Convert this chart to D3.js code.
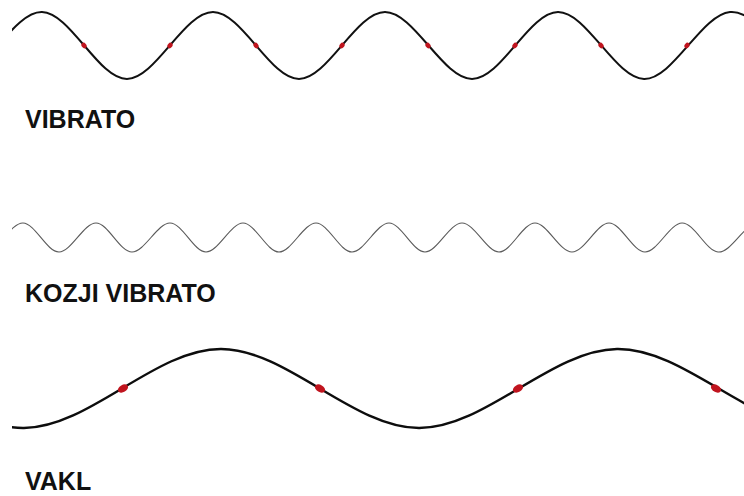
<!DOCTYPE html>
<html>
<head>
<meta charset="utf-8">
<title>Vibrato, kozji vibrato, vakl</title>
<script src="https://cdn.jsdelivr.net/npm/d3@7"></script>
<style>
    html, body { margin: 0; padding: 0; background: #fff; }
    svg { display: block; }
    .label { font-family: "Liberation Sans", Arial, sans-serif; font-weight: bold; font-size: 25px; fill: #111; }
</style>
</head>
<body>
<svg id="chart" width="744" height="496"></svg>
<script>
    // wave extremes (x, y in picture units), alternating trough / peak
    var vibratoX = [-216, -130, -44, 42, 127, 213, 299, 385, 472, 558, 644, 730, 816, 902];
    var vibratoY = [79, 12, 79, 12, 79, 12, 79, 12, 79, 12, 79, 12, 79, 12];
    var vibratoDotX = [84, 170, 256, 342, 428, 515, 601, 687];
    var vibratoDotY = [45.5, 45.5, 45.5, 45.5, 45.5, 45.5, 45.5, 45.5];

    var kozjiX = [-87, -51, -14, 23, 59, 96, 132, 170, 206, 243, 279, 316, 352, 389, 425, 462, 499, 535, 572, 609, 645, 682, 718, 755, 791];
    var kozjiY = [252, 223, 252, 223, 252, 223, 252, 223, 252, 223, 252, 223, 252, 223, 252, 223, 252, 223, 252, 223, 252, 223, 252, 223, 252];

    var vaklX = [-571, -373, -175, 24, 221, 419, 617, 815, 1013, 1211];
    var vaklY = [349, 428, 349, 428, 349, 428, 349, 428, 349, 428];
    var vaklDotX = [123, 320, 518, 716];
    var vaklDotY = [388.5, 388.5, 388.5, 388.5];

    var labels = ["VIBRATO", "KOZJI VIBRATO", "VAKL"];
    var labelY = [128, 302, 490];

    var svg = d3.select("#chart");
    var W = +svg.attr("width"), H = +svg.attr("height");

    var x = d3.scaleLinear().domain([0, 744]).range([0, W]);
    var y = d3.scaleLinear().domain([0, 496]).range([0, H]);

    svg.append("defs").append("clipPath")
        .attr("id", "clip")
        .append("rect")
        .attr("x", x(12)).attr("y", 0)
        .attr("width", W - x(12)).attr("height", H);

    var line = d3.line()
        .x(d => x(d[0]))
        .y(d => y(d[1]))
        .curve(d3.curveNatural);

    function wave(xs, ys, color, width) {
        svg.append("path")
            .datum(d3.zip(xs, ys))
            .attr("clip-path", "url(#clip)")
            .attr("fill", "none")
            .attr("stroke", color)
            .attr("stroke-width", width)
            .attr("d", line);
    }

    function dots(xs, ys, rx, ry, angle) {
        svg.append("g")
            .selectAll("ellipse")
            .data(d3.zip(xs, ys))
            .enter()
            .append("ellipse")
            .attr("transform", (d, i) => `translate(${x(d[0])},${y(d[1])}) rotate(${i % 2 ? angle : -angle})`)
            .attr("rx", rx)
            .attr("ry", ry)
            .attr("fill", "#c0141e");
    }

    wave(vibratoX, vibratoY, "#111", 2);
    dots(vibratoDotX, vibratoDotY, 3, 2.3, -50);

    wave(kozjiX, kozjiY, "#5a5a5a", 1.1);

    wave(vaklX, vaklY, "#0d0d0d", 2.4);
    dots(vaklDotX, vaklDotY, 5.5, 3.6, 30);

    svg.selectAll(".label")
        .data(labels)
        .enter()
        .append("text")
        .attr("class", "label")
        .attr("x", x(25))
        .attr("y", (d, i) => y(labelY[i]))
        .text(d => d);
</script>
</body>
</html>
